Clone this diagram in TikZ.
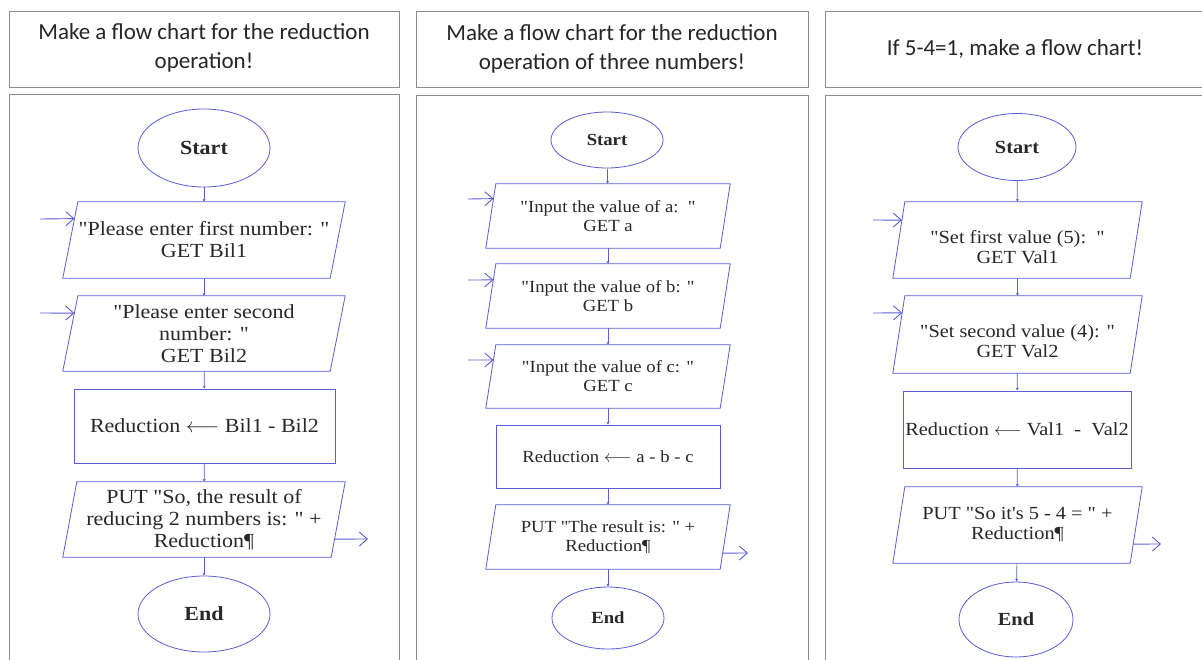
\documentclass[tikz,border=0pt]{standalone}
\usepackage{fontspec}
\setmainfont{Liberation Serif}
\newfontfamily\hdfont{Carlito}
\newfontfamily\flowfont[FakeStretch=1.1,Ligatures=TeXOff]{Liberation Serif}
\usetikzlibrary{shapes.geometric,arrows.meta,calc}
\definecolor{fcblue}{RGB}{92,92,214}
\definecolor{framegray}{RGB}{140,140,140}
\definecolor{txt}{RGB}{40,40,40}
\newcommand{\larr}{\ensuremath{\longleftarrow}}
\tikzset{
  frame/.style={draw=framegray,line width=1.2pt,rectangle,inner sep=0pt,anchor=north west},
  hdtext/.style={font=\hdfont\fontsize{23}{29}\selectfont,text=black!85,align=center},
  term/.style={ellipse,draw=fcblue,line width=0.8pt,inner sep=0pt,text=txt,align=center},
  iobox/.style={rectangle,inner sep=0pt,text=txt,align=center},
  proc/.style={rectangle,draw=fcblue,line width=0.8pt,inner sep=0pt,text=txt,align=center},
  shapeline/.style={draw=fcblue,line width=0.8pt},
  flow/.style={draw=fcblue,line width=0.7pt,-{Stealth[length=3pt,width=3pt]}},
  ioarrow/.style={draw=fcblue,line width=0.9pt,-{Straight Barb[length=8pt,width=14pt]}},
  fA/.style={font=\flowfont\fontsize{20}{22}\selectfont},
  fB/.style={font=\flowfont\fontsize{17}{19}\selectfont},
  fC/.style={font=\flowfont\fontsize{18.5}{20}\selectfont},
}
% parallelogram outline on a rectangular node: #1 node name, #2 slant
\newcommand{\ioshape}[2]{\draw[shapeline] ($(#1.north west)+(#2,0)$) -- (#1.north east) -- ($(#1.south east)-(#2,0)$) -- (#1.south west) -- cycle;}
\begin{document}
\begin{tikzpicture}[x=1pt,y=-1pt]
\useasboundingbox (0,0) rectangle (1202,659);
\clip (0,0) rectangle (1202,659);
\fill[white] (0,0) rectangle (1202,659);
% frames
\node[frame,minimum width=390,minimum height=76] (h1) at (9,11) {};
\node[frame,minimum width=392,minimum height=76] (h2) at (416,11) {};
\node[frame,minimum width=400,minimum height=76] (h3) at (825,11) {};
\node[frame,minimum width=390,minimum height=580] (b1) at (9,94) {};
\node[frame,minimum width=392,minimum height=580] (b2) at (416,95) {};
\node[frame,minimum width=400,minimum height=580] (b3) at (825,95) {};
\node[hdtext] (t1) at (204,48) {Make a flow chart for the reduction\\operation!};
\node[hdtext] (t2) at (612,49) {Make a flow chart for the reduction\\operation of three numbers!};
\node[hdtext] (t3) at (1015,49) {If 5-4=1, make a flow chart!};

% ---------- panel 1 ----------
\begin{scope}[fA]
\node[term,minimum width=132,minimum height=78] (s1) at (204,148) {\bfseries Start};
\node[iobox,minimum width=282,minimum height=76] (p1a) at (204,240) {"Please enter first number: "\\GET Bil1};
\node[iobox,minimum width=282,minimum height=75] (p1b) at (204,333.5) {"Please enter second\\number: "\\GET Bil2};
\node[proc,minimum width=261,minimum height=74] (r1) at (204.5,426) {Reduction \larr{} Bil1 - Bil2};
\node[iobox,minimum width=282,minimum height=75] (p1c) at (204,519.5) {PUT "So, the result of\\reducing 2 numbers is: " +\\Reduction¶};
\node[term,minimum width=132,minimum height=76] (e1) at (204,614) {\bfseries End};
\end{scope}
\ioshape{p1a}{15}
\ioshape{p1b}{15}
\ioshape{p1c}{14}
\draw[flow] (s1) -- (p1a);
\draw[flow] (p1a) -- (p1b);
\draw[flow] (p1b) -- (r1);
\draw[flow] (r1) -- (p1c);
\draw[flow] (p1c) -- (e1);
\coordinate (i1a) at (40,219);
\coordinate (i1b) at (40,313);
\coordinate (o1) at (368,539);
\draw[ioarrow] (i1a) -- ($(p1a.north west)!0.22!(p1a.south west)+({15*0.78},0)$);
\draw[ioarrow] (i1b) -- ($(p1b.north west)!0.23!(p1b.south west)+({15*0.77},0)$);
\draw[ioarrow] ($(p1c.north east)!0.76!(p1c.south east)-({14*0.76},0)$) -- (o1);

% ---------- panel 2 ----------
\begin{scope}[fB]
\node[term,minimum width=112,minimum height=56] (s2) at (607,140) {\bfseries Start};
\node[iobox,minimum width=244,minimum height=64] (p2a) at (608,216) {"Input the value of a:\ \ "\\GET a};
\node[iobox,minimum width=244,minimum height=64] (p2b) at (608,296) {"Input the value of b: "\\GET b};
\node[iobox,minimum width=244,minimum height=63] (p2c) at (608,376.5) {"Input the value of c: "\\GET c};
\node[proc,minimum width=224,minimum height=63] (r2) at (608,456.5) {Reduction \larr{} a - b - c};
\node[iobox,minimum width=244,minimum height=64] (p2d) at (608,537) {PUT "The result is: " +\\Reduction¶};
\node[term,minimum width=112,minimum height=62] (e2) at (608,618) {\bfseries End};
\end{scope}
\ioshape{p2a}{10}
\ioshape{p2b}{10}
\ioshape{p2c}{10}
\ioshape{p2d}{10}
\draw[flow] (s2) -- (p2a);
\draw[flow] (p2a) -- (p2b);
\draw[flow] (p2b) -- (p2c);
\draw[flow] (p2c) -- (r2);
\draw[flow] (r2) -- (p2d);
\draw[flow] (p2d) -- (e2);
\coordinate (i2a) at (468,199);
\coordinate (i2b) at (468,280);
\coordinate (i2c) at (468,360);
\coordinate (o2) at (748,553);
\draw[ioarrow] (i2a) -- ($(p2a.north west)!0.23!(p2a.south west)+({10*0.77},0)$);
\draw[ioarrow] (i2b) -- ($(p2b.north west)!0.25!(p2b.south west)+({10*0.75},0)$);
\draw[ioarrow] (i2c) -- ($(p2c.north west)!0.24!(p2c.south west)+({10*0.76},0)$);
\draw[ioarrow] ($(p2d.north east)!0.75!(p2d.south east)-({10*0.75},0)$) -- (o2);

% ---------- panel 3 ----------
\begin{scope}[fC]
\node[term,minimum width=118,minimum height=67] (s3) at (1017,147) {\bfseries Start};
\node[iobox,minimum width=249,minimum height=76] (p3a) at (1017.5,240) {};
\node[iobox] (p3at) at (1017.5,247) {"Set first value (5):\ \ "\\GET Val1};
\node[iobox,minimum width=249,minimum height=77] (p3b) at (1017.5,334.5) {};
\node[iobox] (p3bt) at (1017.5,341) {"Set second value (4): "\\GET Val2};
\node[proc,minimum width=228,minimum height=77] (r3) at (1017,429.5) {Reduction \larr{} Val1\ \ -\ \ Val2};
\node[iobox,minimum width=249,minimum height=76] (p3c) at (1017.5,525) {PUT "So it's 5 - 4 = " +\\Reduction¶};
\node[term,minimum width=114,minimum height=75] (e3) at (1016,619.5) {\bfseries End};
\end{scope}
\ioshape{p3a}{12}
\ioshape{p3b}{12}
\ioshape{p3c}{12}
\draw[flow] (s3) -- (p3a);
\draw[flow] (p3a) -- (p3b);
\draw[flow] (p3b) -- (r3);
\draw[flow] (r3) -- (p3c);
\draw[flow] (p3c) -- (e3);
\coordinate (i3a) at (873,220);
\coordinate (i3b) at (873,313);
\coordinate (o3) at (1161,544);
\draw[ioarrow] (i3a) -- ($(p3a.north west)!0.24!(p3a.south west)+({12*0.76},0)$);
\draw[ioarrow] (i3b) -- ($(p3b.north west)!0.22!(p3b.south west)+({12*0.78},0)$);
\draw[ioarrow] ($(p3c.north east)!0.75!(p3c.south east)-({12*0.75},0)$) -- (o3);
\end{tikzpicture}
\end{document}
